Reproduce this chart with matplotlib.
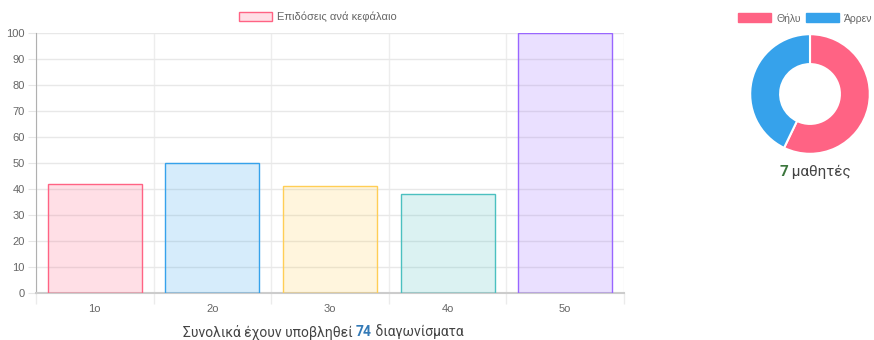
import matplotlib.pyplot as plt
from matplotlib.patches import Patch

chapters = ["1ο", "2ο", "3ο", "4ο", "5ο"]
scores = [42, 50, 41, 38, 100]
bar_rgb = [(255, 99, 132), (54, 162, 235), (255, 206, 86), (75, 192, 192), (153, 102, 255)]

genders = ["Θήλυ", "Άρρεν"]
gender_counts = [4, 3]
gender_colors = ["#ff6384", "#36a2eb"]

total_tests = 74
total_students = sum(gender_counts)

W, H = 874, 340
fig = plt.figure(figsize=(W / 100, H / 100), dpi=100)
plt.rcParams["font.family"] = ["Liberation Sans", "DejaVu Sans"]


def frac(x0, y0, x1, y1):
    return [x0 / W, 1 - y1 / H, (x1 - x0) / W, (y1 - y0) / H]


# bar chart
ax = fig.add_axes(frac(36, 33, 624, 293))
fill = [(r / 255, g / 255, b / 255, 0.2) for r, g, b in bar_rgb]
edge = [(r / 255, g / 255, b / 255, 1) for r, g, b in bar_rgb]
x = list(range(len(chapters)))
ax.bar(x, scores, width=0.8, color=fill, edgecolor=edge, linewidth=1, zorder=3)
ax.set_xlim(-0.5, len(chapters) - 0.5)
ax.set_ylim(0, 100)
ax.set_yticks(range(0, 101, 10))
ax.set_xticks(x)
ax.set_xticklabels(chapters)
ax.set_xticks([i - 0.5 for i in range(len(chapters) + 1)], minor=True)
ax.tick_params(axis="x", which="major", length=0, pad=8, labelsize=8, labelcolor="#666666")
ax.tick_params(axis="x", which="minor", length=8, color="#ebebeb", width=1)
ax.tick_params(axis="y", length=6, color="#e6e6e6", labelsize=8, labelcolor="#666666", pad=2)
ax.grid(axis="y", color="#e8e8e8", linewidth=1, zorder=0)
ax.grid(axis="x", which="minor", color="#ededed", linewidth=1, zorder=0)
ax.grid(axis="x", which="major", visible=False)
for s in ["top", "right"]:
    ax.spines[s].set_visible(False)
ax.spines["left"].set_color("#b0b0b0")
ax.spines["bottom"].set_color("#cccccc")
ax.spines["bottom"].set_linewidth(1.5)

legend = ax.legend(handles=[Patch(facecolor=fill[0], edgecolor=edge[0], linewidth=1,
                                  label="Επιδόσεις ανά κεφάλαιο")],
                   loc="upper left", bbox_to_anchor=(239 / W, 1 - 12 / H),
                   bbox_transform=fig.transFigure, frameon=False, borderpad=0,
                   fontsize=8, handlelength=3.0, handleheight=0.9, handletextpad=0.45,
                   borderaxespad=0)
for t in legend.get_texts():
    t.set_color("#666666")

fig.text(183 / W, 1 - 332 / H, "Συνολικά έχουν υποβληθεί ", fontsize=10,
         family="Roboto", color="#444444", va="center", ha="left")
fig.canvas.draw()
t1 = fig.texts[-1]
bb = t1.get_window_extent()
t2 = fig.text(bb.x1 / W, 1 - 332 / H, str(total_tests), fontsize=10, family="Roboto",
              weight="bold", color="#337ab7", va="center", ha="left")
bb2 = t2.get_window_extent(fig.canvas.get_renderer())
fig.text(bb2.x1 / W, 1 - 332 / H, " διαγωνίσματα", fontsize=10, family="Roboto",
         color="#444444", va="center", ha="left")

# doughnut chart
ax2 = fig.add_axes(frac(749, 33, 871, 155))
ax2.pie(gender_counts, colors=gender_colors, startangle=90, counterclock=False,
        radius=1, wedgeprops=dict(width=0.5, edgecolor="white", linewidth=1.5))
ax2.set_aspect("equal")
ax2.set_xlim(-1.02, 1.02)
ax2.set_ylim(-1.02, 1.02)

lg2 = fig.legend(handles=[Patch(facecolor=c, edgecolor=c, label=g)
                          for g, c in zip(genders, gender_colors)],
                 loc="upper left", bbox_to_anchor=(738 / W, 1 - 13 / H), ncol=2,
                 frameon=False, borderpad=0, borderaxespad=0, fontsize=7.5,
                 handlelength=3.2, handleheight=0.95, handletextpad=0.45,
                 columnspacing=0.5)
for t in lg2.get_texts():
    t.set_color("#666666")

s1 = fig.text(779 / W, 1 - 172 / H, str(total_students), fontsize=11, family="Roboto",
              weight="bold", color="#3c763d", va="center", ha="left")
fig.canvas.draw()
b = s1.get_window_extent()
fig.text(b.x1 / W, 1 - 172 / H, " μαθητές", fontsize=11, family="Roboto",
         color="#444444", va="center", ha="left")

fig.savefig("out.png", dpi=100)
